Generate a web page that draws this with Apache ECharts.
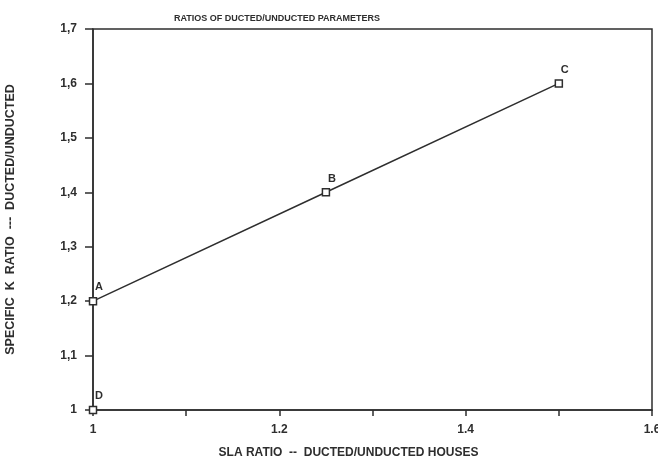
<!DOCTYPE html>
<html>
<head>
<meta charset="utf-8">
<script src="https://cdn.jsdelivr.net/npm/echarts@6/dist/echarts.min.js"></script>
<style>
html,body{margin:0;padding:0;background:#fff;}
#chart{width:658px;height:463px;}
</style>
</head>
<body>
<div id="chart"></div>
<script>
// SLA ratio vs specific K ratio, ducted over unducted
const slaRatio = [1.0, 1.25, 1.5];
const kRatio = [1.2, 1.4, 1.6];
const pointNames = ['A', 'B', 'C'];
const baseSla = [1.0];
const baseK = [1.0];
const baseNames = ['D'];

const ink = '#2e2e2e';
const font = 'Liberation Sans, Arial, sans-serif';

function pts(xs, ys, names) {
  return xs.map((x, i) => ({ value: [x, ys[i]], name: names[i] }));
}

const pointLabel = {
  show: true, formatter: p => p.name, position: 'top', offset: [6, 1],
  color: ink, fontFamily: font, fontSize: 11, fontWeight: 'bold'
};
const marker = { color: '#fff', borderColor: ink, borderWidth: 1.5, opacity: 1 };

const chart = echarts.init(document.getElementById('chart'));
chart.setOption({
  backgroundColor: '#fff',
  animation: false,
  title: {
    text: 'RATIOS OF DUCTED/UNDUCTED PARAMETERS',
    left: 272, top: 9, textAlign: 'center',
    textStyle: { fontFamily: font, fontSize: 9, fontWeight: 'bold', color: ink }
  },
  grid: {
    left: 93, right: 6, top: 29, bottom: 53,
    outerBoundsMode: 'none', containLabel: false,
    show: true, borderColor: ink, borderWidth: 1.5, backgroundColor: 'transparent'
  },
  xAxis: {
    type: 'value', min: 1, max: 1.6, interval: 0.1,
    name: 'SLA RATIO  --  DUCTED/UNDUCTED HOUSES',
    nameLocation: 'middle', nameGap: 37,
    nameTextStyle: { fontFamily: font, fontSize: 12, fontWeight: 'bold', color: ink, padding: [0, 48, 0, 0] },
    axisLine: { lineStyle: { color: ink, width: 1.5 } },
    axisTick: { show: true, length: 6, lineStyle: { color: ink, width: 1.5 } },
    axisLabel: {
      margin: 14, color: ink, fontFamily: font, fontSize: 12, fontWeight: 'bold',
      formatter: v => (Math.round(v * 10) % 2 === 0 ? String(Math.round(v * 10) / 10) : '')
    },
    splitLine: { show: false }
  },
  yAxis: {
    type: 'value', min: 1, max: 1.7, interval: 0.1,
    name: 'SPECIFIC  K  RATIO  ---  DUCTED/UNDUCTED',
    nameLocation: 'middle', nameGap: 76, nameRotate: 90,
    nameTextStyle: { fontFamily: font, fontSize: 12.5, fontWeight: 'bold', color: ink },
    axisLine: { lineStyle: { color: ink, width: 1.5 } },
    axisTick: { show: true, length: 8, lineStyle: { color: ink, width: 1.5 } },
    axisLabel: {
      margin: 16, color: ink, fontFamily: font, fontSize: 12, fontWeight: 'bold',
      formatter: v => String(Math.round(v * 10) / 10).replace('.', ',')
    },
    splitLine: { show: false }
  },
  series: [
    {
      type: 'line',
      data: pts(slaRatio, kRatio, pointNames),
      symbol: 'rect', symbolSize: 7,
      itemStyle: marker,
      lineStyle: { color: ink, width: 1.5 },
      label: pointLabel,
      clip: false
    },
    {
      type: 'scatter',
      data: pts(baseSla, baseK, baseNames),
      symbol: 'rect', symbolSize: 7,
      itemStyle: marker,
      label: pointLabel,
      clip: false
    }
  ]
});
</script>
</body>
</html>
